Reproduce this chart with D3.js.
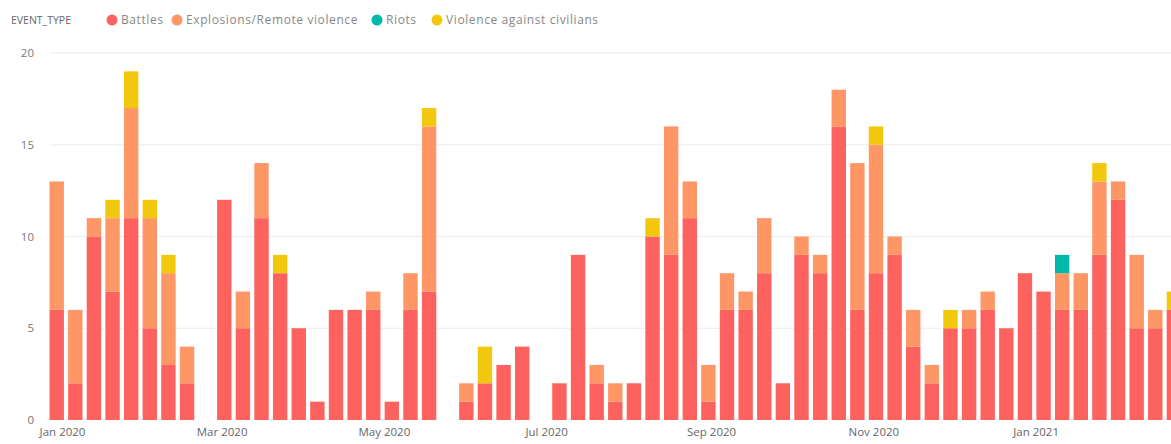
<!DOCTYPE html>
<html>
<head>
<meta charset="utf-8">
<script src="https://cdn.jsdelivr.net/npm/d3@7"></script>
<style>
  body { margin: 0; background: #fff; }
  svg { display: block; font-family: "Open Sans", "DejaVu Sans", sans-serif; }
</style>
</head>
<body>
<svg id="chart" width="1171" height="444"></svg>
<script>
// uker (mandag) og antall hendelser per type
var weeks = ["2019-12-30", "2020-01-06", "2020-01-13", "2020-01-20", "2020-01-27", "2020-02-03", "2020-02-10",
    "2020-02-17", "2020-02-24", "2020-03-02", "2020-03-09", "2020-03-16", "2020-03-23", "2020-03-30",
    "2020-04-06", "2020-04-13", "2020-04-20", "2020-04-27", "2020-05-04", "2020-05-11", "2020-05-18",
    "2020-05-25", "2020-06-01", "2020-06-08", "2020-06-15", "2020-06-22", "2020-06-29", "2020-07-06",
    "2020-07-13", "2020-07-20", "2020-07-27", "2020-08-03", "2020-08-10", "2020-08-17", "2020-08-24",
    "2020-08-31", "2020-09-07", "2020-09-14", "2020-09-21", "2020-09-28", "2020-10-05", "2020-10-12",
    "2020-10-19", "2020-10-26", "2020-11-02", "2020-11-09", "2020-11-16", "2020-11-23", "2020-11-30",
    "2020-12-07", "2020-12-14", "2020-12-21", "2020-12-28", "2021-01-04", "2021-01-11", "2021-01-18",
    "2021-01-25", "2021-02-01", "2021-02-08", "2021-02-15", "2021-02-22"];

var battles = [6, 2, 10, 7, 11, 5, 3, 2, 0, 12, 5, 11, 8, 5, 1, 6, 6, 6, 1, 6, 7, 0, 1, 2, 3, 4, 0, 2, 9, 2, 1,
    2, 10, 9, 11, 1, 6, 6, 8, 2, 9, 8, 16, 6, 8, 9, 4, 2, 5, 5, 6, 5, 8, 7, 6, 6, 9, 12, 5, 5, 6];
var explosions = [7, 4, 1, 4, 6, 6, 5, 2, 0, 0, 2, 3, 0, 0, 0, 0, 0, 1, 0, 2, 9, 0, 1, 0, 0, 0, 0, 0, 0, 1, 1,
    0, 0, 7, 2, 2, 2, 1, 3, 0, 1, 1, 2, 8, 7, 1, 2, 1, 0, 1, 1, 0, 0, 0, 2, 2, 4, 1, 4, 1, 0];
var riots = [0, 0, 0, 0, 0, 0, 0, 0, 0, 0, 0, 0, 0, 0, 0, 0, 0, 0, 0, 0, 0, 0, 0, 0, 0, 0, 0, 0, 0, 0, 0,
    0, 0, 0, 0, 0, 0, 0, 0, 0, 0, 0, 0, 0, 0, 0, 0, 0, 0, 0, 0, 0, 0, 0, 1, 0, 0, 0, 0, 0, 0];
var violence = [0, 0, 0, 1, 2, 1, 1, 0, 0, 0, 0, 0, 1, 0, 0, 0, 0, 0, 0, 0, 1, 0, 0, 2, 0, 0, 0, 0, 0, 0, 0,
    0, 1, 0, 0, 0, 0, 0, 0, 0, 0, 0, 0, 0, 1, 0, 0, 0, 1, 0, 0, 0, 0, 0, 0, 0, 1, 0, 0, 0, 1];

var yTicks = [0, 5, 10, 15, 20];

var seriesNames = ["Battles", "Explosions/Remote violence", "Riots", "Violence against civilians"];
var seriesColors = ["#FD625E", "#FE9666", "#01B8AA", "#F2C80F"];

var parseDate = d3.timeParse("%Y-%m-%d");

// tabell for d3.stack
var table = weeks.map(function (w, i) {
    var row = { date: parseDate(w) };
    row[seriesNames[0]] = battles[i];
    row[seriesNames[1]] = explosions[i];
    row[seriesNames[2]] = riots[i];
    row[seriesNames[3]] = violence[i];
    return row;
});

var svg = d3.select("#chart");

var weekPx = 18.62;
var x = d3.scaleTime()
    .domain([table[0].date, table[table.length - 1].date])
    .range([56.7, 56.7 + weekPx * (table.length - 1)]);
var y = d3.scaleLinear().domain([0, 20]).range([420, 53]);
var color = d3.scaleOrdinal().domain(seriesNames).range(seriesColors);
var barWidth = 14.4;

// gridlinjer
svg.append("g")
    .attr("class", "gridy")
    .selectAll("line")
    .data(yTicks.filter(function (d) { return d > 0; }))
    .enter().append("line")
    .attr("x1", 50)
    .attr("x2", 1171)
    .attr("y1", function (d) { return y(d); })
    .attr("y2", function (d) { return y(d); })
    .attr("stroke", "#ececec")
    .attr("stroke-width", 1.2);

// y-akse
var yAxis = svg.append("g")
    .attr("class", "y axis")
    .attr("transform", "translate(34,0)")
    .call(d3.axisLeft(y).tickValues(yTicks).tickSize(0).tickPadding(0));
yAxis.select(".domain").remove();
yAxis.selectAll("text")
    .attr("fill", "#777")
    .style("font-size", "11.5px")
    .style("font-family", "'Open Sans', sans-serif");

// x-akse
var xAxis = svg.append("g")
    .attr("class", "x axis")
    .attr("transform", "translate(0,428)")
    .call(d3.axisBottom(x)
        .ticks(d3.timeMonth.every(2))
        .tickFormat(d3.timeFormat("%b %Y"))
        .tickSize(0)
        .tickPadding(0));
xAxis.select(".domain").remove();
xAxis.selectAll("text")
    .attr("fill", "#666")
    .style("font-size", "11.5px")
    .style("font-family", "'Open Sans', sans-serif");

// stablede stolper
var stacked = d3.stack().keys(seriesNames)(table);

svg.append("g")
    .attr("class", "bars")
    .selectAll("g")
    .data(stacked)
    .enter().append("g")
    .attr("fill", function (d) { return color(d.key); })
    .selectAll("rect")
    .data(function (d) { return d.filter(function (p) { return p[1] > p[0]; }); })
    .enter().append("rect")
    .attr("x", function (d) { return x(d.data.date) - barWidth / 2; })
    .attr("width", barWidth)
    .attr("y", function (d) { return y(d[1]); })
    .attr("height", function (d) { return y(d[0]) - y(d[1]); });

// tegnforklaring
var legend = svg.append("g").attr("class", "legend").attr("transform", "translate(0,20)");
legend.append("text")
    .attr("x", 11)
    .attr("y", 0)
    .attr("dy", "0.35em")
    .attr("fill", "#666")
    .style("font-size", "10.5px")
    .text("EVENT_TYPE");

var legendX = [112, 177, 377, 437];
var items = legend.selectAll(".item")
    .data(seriesNames)
    .enter().append("g")
    .attr("class", "item")
    .attr("transform", function (d, i) { return "translate(" + legendX[i] + ",0)"; });
items.append("circle")
    .attr("r", 5.5)
    .attr("fill", function (d) { return color(d); });
items.append("text")
    .attr("x", 9)
    .attr("dy", "0.35em")
    .attr("fill", "#888")
    .style("font-size", "12px")
    .style("letter-spacing", "0.6px")
    .text(function (d) { return d; });
</script>
</body>
</html>
